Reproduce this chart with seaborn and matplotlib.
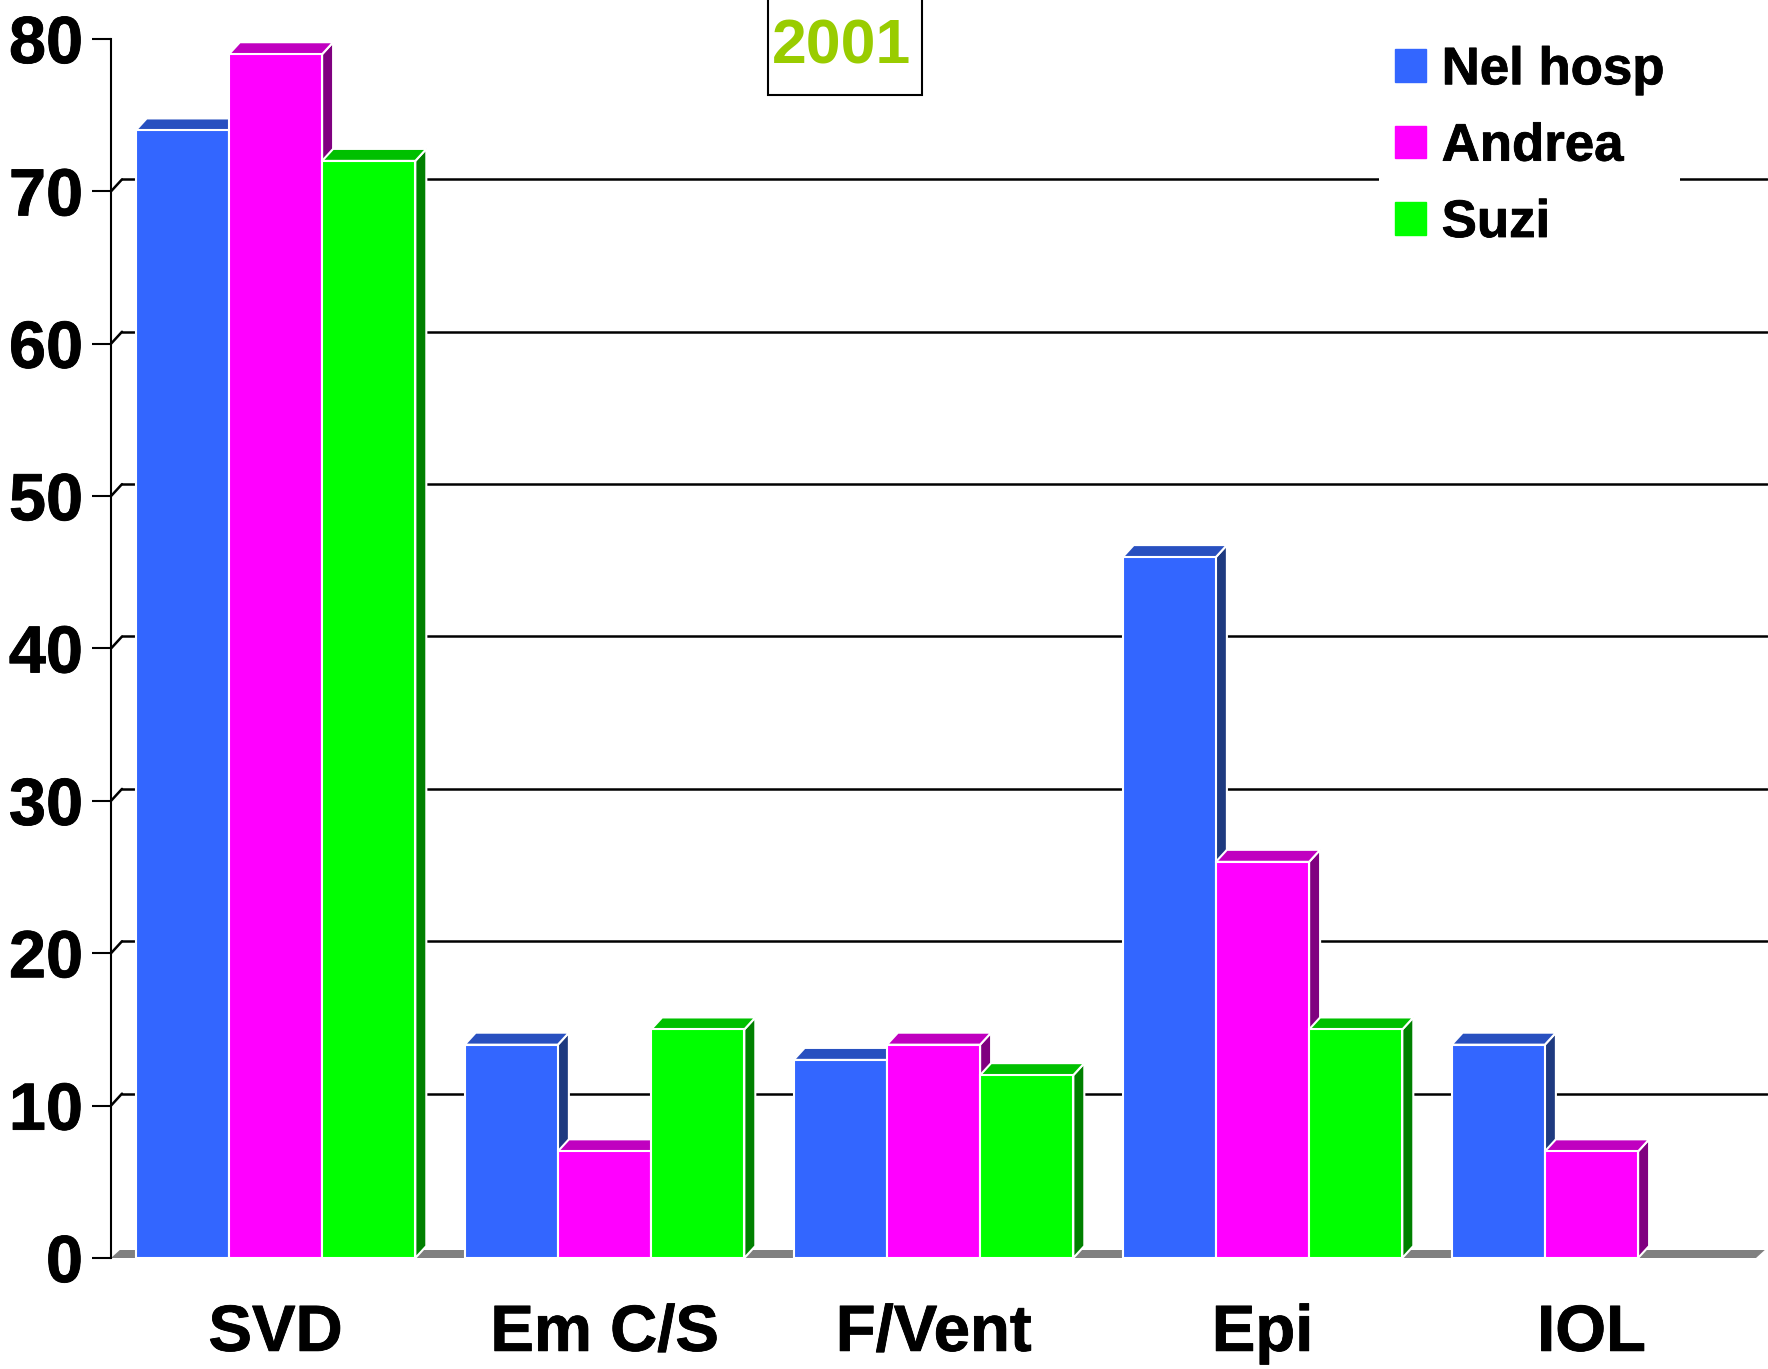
import matplotlib
matplotlib.use("Agg")
import matplotlib.pyplot as plt
import matplotlib.patheffects as pe
import seaborn as sns
import pandas as pd
from matplotlib.patches import Polygon, Patch, Rectangle

categories = ["SVD", "Em C/S", "F/Vent", "Epi", "IOL"]
series = ["Nel hosp", "Andrea", "Suzi"]
nel_hosp = [74, 14, 13, 46, 14]
andrea = [79, 7, 14, 26, 7]
suzi = [72, 15, 12, 15, 0]
yticks = [0, 10, 20, 30, 40, 50, 60, 70, 80]
title = "2001"

front = ["#3366FF", "#FF00FF", "#00FF00"]
top = ["#2850C0", "#C000C0", "#00C000"]
side = ["#1E3A80", "#800080", "#008000"]

df = pd.DataFrame({
    "cat": categories * 3,
    "series": [s for s in series for _ in categories],
    "value": nel_hosp + andrea + suzi,
})

sns.set_style("white")
plt.rcParams["font.family"] = ["Liberation Sans", "DejaVu Sans"]
plt.rcParams["font.weight"] = "bold"
plt.rcParams["text.color"] = "black"

W, H = 1768, 1369
fig = plt.figure(figsize=(W / 100, H / 100), dpi=100)
# axes placed so that the front plane matches the reference
ax = fig.add_axes([111 / W, (H - 1258) / H, (1756 - 111) / W, (1258 - 39) / H])

sns.barplot(data=df, x="cat", y="value", hue="series", palette=front,
            saturation=1, width=0.85, edgecolor="white", linewidth=1.5,
            legend=False, ax=ax)

ax.set_xlim(-0.5, 4.5)
ax.set_ylim(0, 80)

# 3d depth offset in data units (about 11px right, 12px up)
dx = 11 * 5 / (1756 - 111)
dy = 12 * 80 / (1258 - 39)

bars = sorted([p for p in ax.patches], key=lambda p: p.get_x())
for i, p in enumerate(bars):
    x0, w, h = p.get_x(), p.get_width(), p.get_height()
    fc = matplotlib.colors.to_hex(p.get_facecolor()).upper()
    k = front.index(fc)
    base = 5 + 3 * i
    if h <= 0:
        p.set_visible(False)
        continue
    sidepoly = Polygon([(x0 + w, 0), (x0 + w + dx, dy), (x0 + w + dx, h + dy), (x0 + w, h)],
                       closed=True, facecolor=side[k], edgecolor="white", lw=1.5,
                       zorder=base, clip_on=False)
    toppoly = Polygon([(x0, h), (x0 + w, h), (x0 + w + dx, h + dy), (x0 + dx, h + dy)],
                      closed=True, facecolor=top[k], edgecolor="white", lw=1.5,
                      zorder=base + 1, clip_on=False)
    ax.add_patch(sidepoly)
    ax.add_patch(toppoly)
    p.set_zorder(base + 2)

# floor
dyf = 8 * 80 / (1258 - 39)
ax.add_patch(Polygon([(-0.5, 0), (4.5, 0), (4.5 + dx * 0.8, dyf), (-0.5 + dx * 0.8, dyf)],
                     closed=True, facecolor="#808080", edgecolor="none", zorder=2,
                     clip_on=False))

# back wall gridlines
for v in yticks[1:-1]:
    ax.plot([-0.5, -0.5 + dx], [v, v + dy], color="black", lw=1.8, zorder=1, clip_on=False)
    ax.plot([-0.5 + dx, 4.5 + dx], [v + dy, v + dy], color="black", lw=1.8, zorder=1,
            clip_on=False)

for s in ["top", "right", "bottom"]:
    ax.spines[s].set_visible(False)
ax.spines["left"].set_color("black")
ax.spines["left"].set_linewidth(1.5)
ax.set_yticks(yticks)
ax.tick_params(axis="y", left=True, direction="out", length=13.7, width=1.5, pad=6.5,
               labelsize=48, colors="black")
ax.tick_params(axis="x", length=0, pad=33, labelsize=47, colors="black")
heavy = [pe.withStroke(linewidth=0.6, foreground="black")]
for t in ax.get_xticklabels() + ax.get_yticklabels():
    t.set_fontweight("bold")
    t.set_path_effects(heavy)
ax.set_xlabel("")
ax.set_ylabel("")

handles = [Patch(facecolor=c, edgecolor=c) for c in front]
leg = ax.legend(handles, series, loc="upper left", bbox_to_anchor=(1353 / W, 1 - 3 / H),
                bbox_transform=fig.transFigure, frameon=True, fancybox=False,
                facecolor="white", edgecolor="none", framealpha=1,
                prop={"weight": "bold", "size": 38}, handlelength=0.58,
                handleheight=0.58, handletextpad=0.3, labelspacing=0.5,
                borderpad=0.3)
for t in leg.get_texts():
    t.set_color("black")
    t.set_path_effects(heavy)
leg.set_zorder(50)

fig.patches.append(Rectangle((768 / W, 1 - 95 / H), (922 - 768) / W, 110 / H,
                             transform=fig.transFigure, facecolor="white",
                             edgecolor="black", lw=1.5))
fig.text(842 / W, 1 - 47 / H, title, ha="center", va="center", color="#99CC00",
         fontsize=45, fontweight="bold")

fig.savefig("out.png", dpi=100)
